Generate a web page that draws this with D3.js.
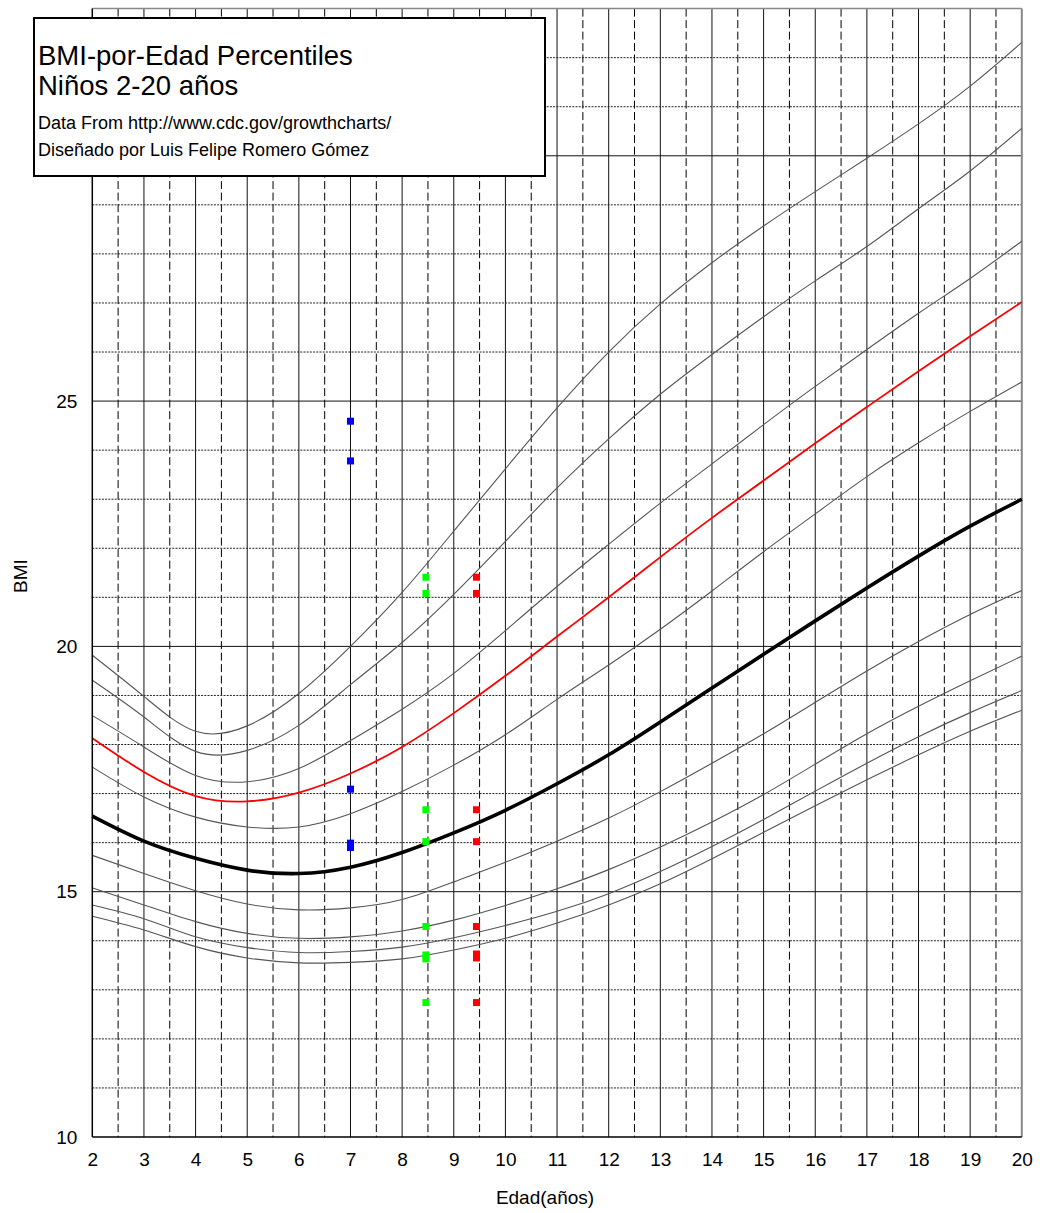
<!DOCTYPE html>
<html><head><meta charset="utf-8">
<script src="https://cdn.jsdelivr.net/npm/d3@7"></script>
<style>
body{margin:0;background:#fff}
svg{display:block}
text{font-family:"Liberation Sans",Arial,Helvetica,sans-serif;fill:#000}
</style>
</head><body>
<svg id="chart" width="1042" height="1213"></svg>
<script>
// ---- data ----
const ages = [2,3,4,5,6,7,8,9,10,11,12,13,14,15,16,17,18,19,20];
const p97 = [19.82,18.98,18.27,18.38,19.04,20.0,21.1,22.35,23.62,24.86,26.0,26.98,27.82,28.57,29.27,29.95,30.65,31.42,32.31];
const p95 = [19.31,18.56,17.86,17.88,18.39,19.22,20.08,21.06,22.14,23.23,24.23,25.14,25.95,26.72,27.45,28.15,28.92,29.69,30.56];
const p90 = [18.59,17.95,17.37,17.24,17.51,18.08,18.72,19.45,20.32,21.22,22.08,22.92,23.72,24.52,25.3,26.05,26.79,27.5,28.26];
const p85 = [18.13,17.44,16.95,16.84,17.02,17.41,17.95,18.64,19.4,20.2,21.0,21.82,22.62,23.38,24.14,24.88,25.61,26.32,27.02];
const p75 = [17.54,16.93,16.52,16.32,16.32,16.59,17.04,17.58,18.2,18.92,19.62,20.35,21.13,21.93,22.7,23.46,24.15,24.79,25.39];
const p50 = [16.54,16.03,15.68,15.44,15.37,15.5,15.8,16.2,16.66,17.2,17.79,18.46,19.15,19.84,20.52,21.19,21.84,22.45,23.0];
const p25 = [15.74,15.37,15.02,14.75,14.63,14.67,14.84,15.2,15.6,16.03,16.5,17.04,17.62,18.22,18.86,19.5,20.1,20.65,21.14];
const p10 = [15.08,14.73,14.39,14.15,14.05,14.08,14.2,14.42,14.72,15.06,15.45,15.91,16.42,16.98,17.6,18.22,18.78,19.3,19.8];
const p5  = [14.73,14.45,14.08,13.86,13.76,13.78,13.87,14.06,14.31,14.6,14.96,15.41,15.92,16.47,17.05,17.62,18.16,18.65,19.1];
const p3  = [14.5,14.22,13.88,13.65,13.55,13.56,13.63,13.81,14.05,14.36,14.73,15.16,15.67,16.21,16.75,17.28,17.79,18.27,18.7];

// measured points
const blueAge = 7.0;
const blueBMI = [24.59,23.78,17.09,15.99,15.9];
const greenAge = 8.46;
const greenBMI = [21.41,21.08,16.67,16.02,14.29,13.71,13.63,12.74];
const redAge = 9.44;
const redBMI = [21.41,21.08,16.67,16.02,14.29,13.73,13.65,12.74];

const xTicks = [2,3,4,5,6,7,8,9,10,11,12,13,14,15,16,17,18,19,20];
const yTicks = [10,15,20,25];
const titleLines = ["BMI-por-Edad Percentiles","Niños 2-20 años"];
const subLines = ["Data From http://www.cdc.gov/growthcharts/","Diseñado por Luis Felipe Romero Gómez"];

// ---- layout ----
const svg = d3.select("#chart");
const x = d3.scaleLinear().domain([2,20]).range([92.3,1021.8]);
const y = d3.scaleLinear().domain([10,33]).range([1137,8.6]);

const grid = svg.append("g");
d3.range(2.5,20,1).forEach(a=>{
  grid.append("line").attr("x1",x(a)).attr("x2",x(a)).attr("y1",y(33)).attr("y2",y(10))
    .attr("stroke","#000").attr("stroke-width",1).attr("stroke-dasharray","8,3.5");
});
d3.range(3,20,1).forEach(a=>{
  grid.append("line").attr("x1",x(a)).attr("x2",x(a)).attr("y1",y(33)).attr("y2",y(10))
    .attr("stroke","#111").attr("stroke-width",1);
});
d3.range(11,33,1).forEach(v=>{
  const solid = v%5===0;
  grid.append("line").attr("x1",x(2)).attr("x2",x(20)).attr("y1",y(v)).attr("y2",y(v))
    .attr("stroke", solid?"#111":"#222").attr("stroke-width",1)
    .attr("stroke-dasharray", solid?null:"2,1.2");
});
svg.append("line").attr("x1",x(2)).attr("x2",x(20)).attr("y1",y(33)).attr("y2",y(33)).attr("stroke","#888").attr("stroke-width",1.5);
svg.append("line").attr("x1",x(20)).attr("x2",x(20)).attr("y1",y(33)).attr("y2",y(10)).attr("stroke","#888").attr("stroke-width",2);

// curves
const line = d3.line().x((d,i)=>x(ages[i])).y(d=>y(d)).curve(d3.curveNatural);
const series = [
  {v:p97,c:"#555",w:1.1},{v:p95,c:"#555",w:1.1},{v:p90,c:"#555",w:1.1},
  {v:p75,c:"#555",w:1.1},{v:p25,c:"#555",w:1.1},{v:p10,c:"#555",w:1.1},
  {v:p5,c:"#555",w:1.1},{v:p3,c:"#555",w:1.1},
  {v:p85,c:"#ff0000",w:1.8},{v:p50,c:"#000",w:3.6}
];
svg.append("g").selectAll("path").data(series).join("path")
  .attr("d",d=>line(d.v)).attr("fill","none")
  .attr("stroke",d=>d.c).attr("stroke-width",d=>d.w);

svg.append("line").attr("x1",x(2)).attr("x2",x(2)).attr("y1",y(33)).attr("y2",y(10)).attr("stroke","#000").attr("stroke-width",1.5);
svg.append("line").attr("x1",x(2)).attr("x2",x(20)).attr("y1",y(10)).attr("y2",y(10)).attr("stroke","#000").attr("stroke-width",1.5);

// markers
const pts = [];
blueBMI.forEach(v=>pts.push({a:blueAge,v,c:"#0000ff"}));
greenBMI.forEach(v=>pts.push({a:greenAge,v,c:"#00ff00"}));
redBMI.forEach(v=>pts.push({a:redAge,v,c:"#ff0000"}));
const s = 7;
svg.append("g").selectAll("rect").data(pts).join("rect")
  .attr("x",d=>x(d.a)-s/2).attr("y",d=>y(d.v)-s/2).attr("width",s).attr("height",s)
  .attr("fill",d=>d.c);

// axes labels
const xAxis = d3.axisBottom(x).tickValues(xTicks).tickFormat(d3.format("d")).tickSize(0).tickPadding(16);
const gx = svg.append("g").attr("transform",`translate(0,${y(10)})`).call(xAxis);
gx.select(".domain").remove();
gx.selectAll("text").attr("font-size",19).attr("font-family","Liberation Sans, Arial, sans-serif").attr("fill","#000");

const yAxis = d3.axisLeft(y).tickValues(yTicks).tickFormat(d3.format("d")).tickSize(0).tickPadding(15);
const gy = svg.append("g").attr("transform",`translate(${x(2)},0)`).call(yAxis);
gy.select(".domain").remove();
gy.selectAll("text").attr("font-size",19).attr("font-family","Liberation Sans, Arial, sans-serif").attr("fill","#000");

svg.append("text").attr("x",545).attr("y",1204).attr("text-anchor","middle").attr("font-size",19).text("Edad(años)");
svg.append("text").attr("transform","translate(27,576) rotate(-90)").attr("text-anchor","middle").attr("font-size",19).text("BMI");

// title box
svg.append("rect").attr("x",34).attr("y",18).attr("width",511).attr("height",158)
  .attr("fill","#fff").attr("stroke","#000").attr("stroke-width",2);
svg.append("text").attr("x",38).attr("y",65).attr("font-size",27.5).text(titleLines[0]);
svg.append("text").attr("x",38).attr("y",95).attr("font-size",27.5).text(titleLines[1]);
svg.append("text").attr("x",38).attr("y",129).attr("font-size",18).text(subLines[0]);
svg.append("text").attr("x",38).attr("y",156).attr("font-size",18).text(subLines[1]);
</script>
</body></html>
